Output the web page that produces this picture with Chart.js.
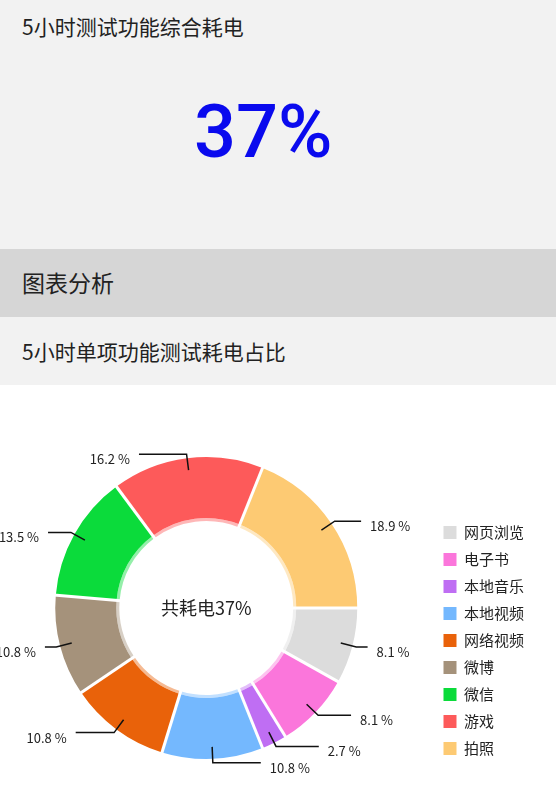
<!DOCTYPE html>
<html>
<head>
<meta charset="utf-8">
<script src="https://cdn.jsdelivr.net/npm/chart.js@4.4.1/dist/chart.umd.min.js"></script>
<style>
  body { margin: 0; width: 556px; height: 800px; overflow: hidden; background: #fff;
         font-family: "Noto Sans CJK SC", sans-serif; color: #222; }
  .top { position: relative; height: 249px; background: #f2f2f2; }
  .top .title { position: absolute; left: 22px; top: 16px; font-size: 21px; line-height: 21px; }
  .top .big { position: absolute; left: 194px; top: 95px; font: 500 74px/74px Roboto, sans-serif; color: #0a0aee; }
  .band { position: relative; height: 68px; background: #d6d6d6; }
  .band span { position: absolute; left: 22px; top: 22px; font-size: 23px; line-height: 23px; }
  .sub { position: relative; height: 68px; background: #f2f2f2; }
  .sub span { position: absolute; left: 22px; top: 24px; font-size: 21px; line-height: 21px; }
  .wrap { position: relative; width: 556px; height: 415px; overflow: hidden; }
  .wrap canvas { position: absolute; left: -19px; top: 0; }
</style>
</head>
<body>
<div class="top">
  <div class="title">5小时测试功能综合耗电</div>
  <div class="big" id="big"></div>
</div>
<div class="band"><span>图表分析</span></div>
<div class="sub"><span>5小时单项功能测试耗电占比</span></div>
<div class="wrap"><canvas id="pie" width="575" height="415"></canvas></div>

<script>
// data
const totalUse = 37;
const items = ["网页浏览", "电子书", "本地音乐", "本地视频", "网络视频", "微博", "微信", "游戏", "拍照"];
const shares = [8.1, 8.1, 2.7, 10.8, 10.8, 10.8, 13.5, 16.2, 18.9];
const colors = ["#dcdcdc", "#fb76db", "#bf6ef3", "#74b8fe", "#e9620a", "#a5927b", "#0bdb3b", "#fd5a5a", "#fdca73"];

document.getElementById("big").textContent = totalUse + "%";

const fontCJK = '"Noto Sans CJK SC", sans-serif';

// light inner rim colours
const rim = colors.map(c => c + "70");

// white gaps between slices
const gaps = {
    id: "gaps",
    afterDatasetsDraw(chart) {
        const ctx = chart.ctx;
        const meta = chart.getDatasetMeta(0);
        const inner = chart.getDatasetMeta(1).data[0].innerRadius;
        ctx.save();
        ctx.strokeStyle = "#fff";
        ctx.lineWidth = 3;
        meta.data.forEach(arc => {
            const a = arc.startAngle;
            ctx.beginPath();
            ctx.moveTo(arc.x + Math.cos(a) * (inner - 1), arc.y + Math.sin(a) * (inner - 1));
            ctx.lineTo(arc.x + Math.cos(a) * (arc.outerRadius + 2), arc.y + Math.sin(a) * (arc.outerRadius + 2));
            ctx.stroke();
        });
        ctx.restore();
    },
};

// outside labels with leader lines
const outLabels = {
    id: "outLabels",
    afterDatasetsDraw(chart) {
        const ctx = chart.ctx;
        const meta = chart.getDatasetMeta(0);
        ctx.save();
        ctx.font = "13px " + fontCJK;
        ctx.textBaseline = "middle";
        meta.data.forEach((arc, i) => {
            const mid = (arc.startAngle + arc.endAngle) / 2;
            const cos = Math.cos(mid), sin = Math.sin(mid);
            const r1 = arc.outerRadius - 12, r2 = arc.outerRadius + 4;
            const x1 = arc.x + cos * r1, y1 = arc.y + sin * r1;
            const x2 = arc.x + cos * r2, y2 = arc.y + sin * r2;
            const dir = cos >= 0 ? 1 : -1;
            const len = Math.max(8, 49 * Math.abs(sin) - 1);
            const x3 = x2 + dir * len;
            ctx.strokeStyle = "#111";
            ctx.lineWidth = 1.5;
            ctx.beginPath();
            ctx.moveTo(x1, y1);
            ctx.lineTo(x2, y2);
            ctx.lineTo(x3, y2);
            ctx.stroke();
            ctx.fillStyle = "#222";
            ctx.textAlign = dir > 0 ? "left" : "right";
            ctx.fillText(shares[i] + " %", x3 + dir * 9, y2 + 5);
        });
        ctx.restore();
    },
};

// text in the hole
const centerText = {
    id: "centerText",
    afterDatasetsDraw(chart) {
        const arc = chart.getDatasetMeta(0).data[0];
        const ctx = chart.ctx;
        ctx.save();
        ctx.font = "18px " + fontCJK;
        ctx.fillStyle = "#222";
        ctx.textAlign = "center";
        ctx.textBaseline = "middle";
        ctx.fillText("共耗电" + totalUse + "%", arc.x, arc.y);
        ctx.restore();
    },
};

new Chart(document.getElementById("pie"), {
    type: "doughnut",
    data: {
        labels: items,
        datasets: [
            {
                data: shares,
                backgroundColor: colors,
                borderWidth: 0,
                weight: 61,
            },
            {
                data: shares,
                backgroundColor: rim,
                borderWidth: 0,
                weight: 3,
            },
        ],
    },
    options: {
        responsive: false,
        animation: false,
        rotation: 90,
        radius: 151,
        cutout: "57.6%",
        layout: { padding: { left: 0, right: 22, top: 63, bottom: 32 } },
        plugins: {
            tooltip: { enabled: false },
            legend: {
                position: "right",
                align: "end",
                labels: {
                    boxWidth: 13,
                    boxHeight: 13,
                    padding: 12,
                    color: "#222",
                    font: { size: 15, family: fontCJK },
                },
            },
        },
    },
    plugins: [gaps, outLabels, centerText],
});
</script>
</body>
</html>
